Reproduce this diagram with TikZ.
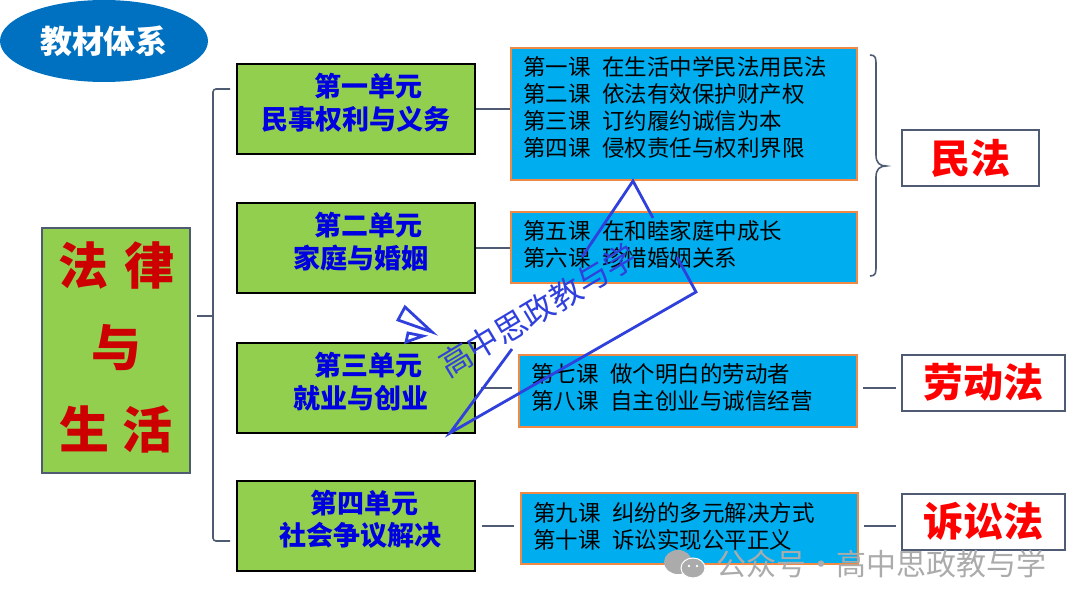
\documentclass[tikz,border=0pt]{standalone}
\usepackage{fontspec}
\setmainfont{Noto Sans CJK SC}
\usetikzlibrary{positioning,shapes.geometric}
\definecolor{titleblue}{HTML}{0070C0}
\definecolor{unitgreen}{HTML}{92CF4F}
\definecolor{courseblue}{HTML}{00AEEF}
\definecolor{courseedge}{HTML}{EE8A45}
\definecolor{linkgrey}{HTML}{4F5B73}
\definecolor{markblue}{HTML}{2F40DC}
\tikzset{
  x=1pt, y=-1pt,
  unit/.style={rectangle, draw=black, line width=2pt, fill=unitgreen, inner sep=0pt,
    minimum width=238pt, minimum height=90pt, text width=230pt, align=center,
    text=blue!88!black, font=\fontsize{27}{32.5}\selectfont\bfseries},
  course/.style={rectangle, draw=courseedge, line width=2pt, fill=courseblue, inner sep=0pt,
    minimum width=#1, text width=#1-24pt, align=left,
    font=\fontsize{22.5}{27}\selectfont},
  course/.default=346pt,
  area/.style={rectangle, draw=linkgrey, line width=2pt, fill=white, inner sep=0pt,
    minimum width=#1, minimum height=56pt, text=red,
    font=\fontsize{40}{44}\selectfont\bfseries},
  link/.style={draw=linkgrey, line width=2.6pt},
  brk/.style={draw=linkgrey, line width=1.6pt},
  wmark/.style={draw=markblue, line width=2.8pt},
}
\newcommand{\kc}[2]{#1\hspace{12pt}#2}
\begin{document}
\begin{tikzpicture}
  \useasboundingbox (0,0) rectangle (1080,608);

  \node[ellipse, fill=titleblue, inner sep=0pt, minimum width=208pt, minimum height=82pt,
    text=white, font=\fontsize{32}{36}\selectfont\bfseries] (title) at (104,41) {教材体系};

  \node[draw=linkgrey, line width=2pt, fill=unitgreen, inner sep=0pt, minimum width=148pt,
    minimum height=245pt, text width=140pt, align=center, text={red!80!black},
    font=\fontsize{50}{82}\selectfont\bfseries] (law) at (116,350.5)
    {法\hspace{16pt}律\\与\\生\hspace{14pt}活\vspace{6pt}};

  \node[unit] (unit1) at (356,109) {\hspace*{24pt}第一单元\\民事权利与义务\vspace{13pt}};
  \node[unit, below=47pt of unit1] (unit2) {\hspace*{24pt}第二单元\\\hspace*{10pt}家庭与婚姻\vspace{13pt}};
  \node[unit, below=48pt of unit2] (unit3) {\hspace*{24pt}第三单元\\\hspace*{10pt}就业与创业\vspace{13pt}};
  \node[unit, below=46pt of unit3] (unit4) {\hspace*{16pt}第四单元\\\hspace*{8pt}社会争议解决\vspace{13pt}};

  \node[course, minimum height=132pt, right=34pt of unit1, yshift=-5pt] (course1)
    {\kc{第一课}{在生活中学民法用民法}\\\kc{第二课}{依法有效保护财产权}\\
     \kc{第三课}{订约履约诚信为本}\\\kc{第四课}{侵权责任与权利界限}\vspace{13pt}};
  \node[course, minimum height=71pt, right=34pt of unit2, yshift=1pt] (course2)
    {\kc{第五课}{在和睦家庭中成长}\\\kc{第六课}{珍惜婚姻关系}\vspace{6pt}};
  \node[course=338pt, minimum height=72pt, right=42pt of unit3, yshift=-3pt] (course3)
    {\kc{第七课}{做个明白的劳动者}\\\kc{第八课}{自主创业与诚信经营}\vspace{7pt}};
  \node[course=337pt, minimum height=71pt, right=44pt of unit4, yshift=-2.5pt] (course4)
    {\kc{第九课}{纠纷的多元解决方式}\\\kc{第十课}{诉讼实现公平正义}\vspace{4pt}};

  \node[area=137pt] (area1) at (970.5,158) {民法};
  \node[area=163pt] (area2) at (983.5,382.5) {劳动法};
  \node[area=163pt] (area3) at (983.5,521.5) {诉讼法};

  \draw[link] (unit1.east) -- (unit1.east -| course1.west);
  \draw[link] (unit2.east) -- (unit2.east -| course2.west);
  \draw[link, shorten <=5pt, shorten >=6pt] (unit3.east) -- (unit3.east -| course3.west);
  \draw[link, shorten <=6pt, shorten >=6pt] (unit4.east) -- (unit4.east -| course4.west);
  \draw[link, shorten <=5pt, shorten >=5pt] (unit3.east -| course3.east) -- (unit3.east -| area2.west);
  \draw[link, shorten <=5pt, shorten >=5pt] (unit4.east -| course4.east) -- (unit4.east -| area3.west);

  % left bracket
  \coordinate (brkT) at (230,89);
  \coordinate (brkB) at (230,541);
  \coordinate (brkM) at (213,316);
  \draw[brk, rounded corners=3pt] (brkT) -| (brkM) |- (brkB);
  \draw[brk, shorten <=6pt] (law.east |- brkM) -- (brkM);

  % right brace
  \draw[brk] (870,55) .. controls (876,55) and (876,58) .. (876,66) -- (876,155)
    .. controls (876,163) and (880,166) .. (886,166)
    .. controls (880,166) and (876,169) .. (876,177) -- (876,265)
    .. controls (876,273) and (876,276) .. (870,276);

  % watermark
  \draw[wmark] (582,257) -- (633,181) -- (653,218);
  \draw[wmark] (677,257) -- (696,292) -- (450,433) -- (512,349);
  \draw[wmark] (405,307) -- (432,332) -- (398,320) -- cycle;
  \draw[wmark] (406,342) -- (423,336) -- (408,333) -- cycle;
  \node[rotate=31, text=markblue, font=\fontsize{32}{36}\selectfont] (markcn) at (538,310) {高中思政教与学};

  \fill[black!33] (678,562) ellipse [x radius=14, y radius=12];
  \draw[white, line width=1pt, fill=black!33] (693,568) ellipse [x radius=12, y radius=10];
  \fill[white] (689,566) circle (1.4) (697,566) circle (1.4);
  \node[text=black!33, anchor=west, inner sep=0pt, font=\fontsize{30}{33}\selectfont] (markgrey) at (716,564) {公众号·高中思政教与学};
\end{tikzpicture}
\end{document}
